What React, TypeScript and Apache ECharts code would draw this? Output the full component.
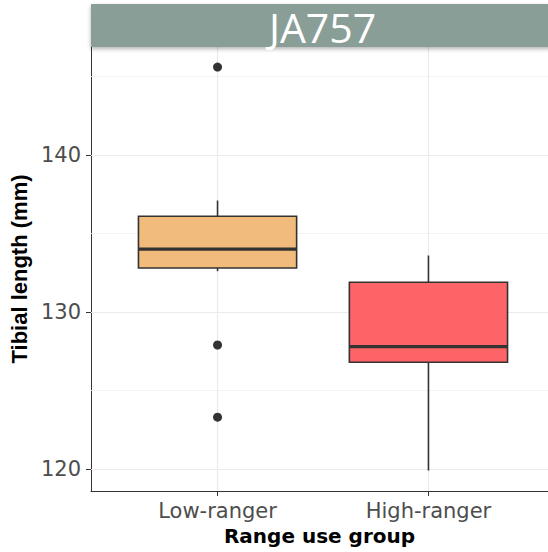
import React, { useEffect, useRef } from "react";
import * as echarts from "echarts";

const categories = ["Low-ranger", "High-ranger"];
// [min whisker, Q1, median, Q3, max whisker]
const lowRangerBox = [132.6, 132.8, 134.0, 136.1, 137.1];
const highRangerBox = [119.9, 126.8, 127.8, 131.9, 133.6];
const lowRangerOutliers = [145.6, 127.9, 123.3];
const highRangerOutliers: number[] = [];
const fillColors = ["#F1BB7B", "#FD6467"];
const yTicks = [120, 130, 140];
const yMinor = [125, 135, 145];
const panelTitle = "JA757";

export default function App() {
  const ref = useRef<HTMLDivElement>(null);
  useEffect(() => {
    if (!ref.current) return;
    const chart = echarts.init(ref.current, undefined, { renderer: "svg" });
    const boxes = [lowRangerBox, highRangerBox].map((b, i) => [i + 1, ...b, i]);
    const outliers: number[][] = [];
    lowRangerOutliers.forEach((v) => outliers.push([1, v]));
    highRangerOutliers.forEach((v) => outliers.push([2, v]));
    const stroke = "#333333";
    const tickFont = "DejaVu Sans, sans-serif";
    chart.setOption({
      animation: false,
      grid: {
        left: 91,
        top: 47,
        right: 0,
        height: 444,
        show: false,
      },
      xAxis: {
        type: "value",
        min: 0.4,
        max: 2.5668,
        splitLine: { show: false },
        axisLine: { show: true, onZero: false, lineStyle: { color: "#333333", width: 1 } },
        axisTick: { show: true, customValues: [1, 2], length: 5, lineStyle: { color: "#333333" } },
        axisLabel: {
          customValues: [1, 2],
          formatter: (v: number) => categories[Math.round(v) - 1] ?? "",
          color: "#4D4D4D",
          fontSize: 21,
          fontFamily: tickFont,
          margin: 9,
        },
        name: "Range use group",
        nameLocation: "middle",
        nameGap: 24,
        nameTextStyle: {
          color: "#000000",
          fontSize: 20,
          fontWeight: "bold",
          fontFamily: tickFont,
        },
      },
      yAxis: {
        type: "value",
        min: 118.6,
        max: 146.88,
        splitLine: { show: false },
        axisLine: { show: true, onZero: false, lineStyle: { color: "#333333", width: 1 } },
        axisTick: { show: true, customValues: yTicks, length: 5, lineStyle: { color: "#333333" } },
        axisLabel: {
          customValues: yTicks,
          color: "#4D4D4D",
          fontSize: 21,
          fontFamily: tickFont,
          margin: 10,
        },
        name: "Tibial length (mm)",
        nameLocation: "middle",
        nameRotate: 90,
        nameGap: 55,
        nameTextStyle: {
          color: "#000000",
          fontSize: 22,
          fontWeight: "bold",
          fontFamily: "Liberation Sans, Arial, sans-serif",
        },
      },
      graphic: [
        {
          type: "rect",
          shape: { x: 91, y: 4, width: 460, height: 43 },
          style: {
            fill: "#8A9E98",
            shadowBlur: 4,
            shadowOffsetY: 2,
            shadowColor: "rgba(0,0,0,0.3)",
          },
          z: 100,
        },
        {
          type: "text",
          x: 322.5,
          y: 27,
          style: {
            text: panelTitle,
            fill: "#ffffff",
            fontSize: 41,
            lineHeight: 41,
            fontFamily: "Open Sans, sans-serif",
            align: "center",
            verticalAlign: "middle",
          },
          z: 101,
        },
      ],
      series: [
        {
          type: "line",
          data: [],
          z: 1,
          silent: true,
          markLine: {
            z: 1,
            silent: true,
            symbol: ["none", "none"],
            label: { show: false },
            lineStyle: { type: "solid", color: "#EBEBEB", width: 1.1 },
            data: [
              ...yTicks.map((v) => ({ yAxis: v, lineStyle: { type: "solid", color: "#EBEBEB", width: 1.2 } })),
              ...yMinor.map((v) => ({ yAxis: v, lineStyle: { type: "solid", color: "#F0F0F0", width: 0.8 } })),
              ...categories.map((_, i) => ({ xAxis: i + 1, lineStyle: { type: "solid", color: "#EBEBEB", width: 1.2 } })),
            ],
          },
        },
        {
          type: "custom",
          z: 3,
          data: boxes,
          renderItem: (params: any, api: any) => {
            const x = api.value(0);
            const mn = api.value(1);
            const q1 = api.value(2);
            const md = api.value(3);
            const q3 = api.value(4);
            const mx = api.value(5);
            const ci = api.value(6);
            const half = api.size([0.75, 0])[0] / 2;
            const pMin = api.coord([x, mn]);
            const pQ1 = api.coord([x, q1]);
            const pMd = api.coord([x, md]);
            const pQ3 = api.coord([x, q3]);
            const pMax = api.coord([x, mx]);
            const cx = pMd[0];
            const lineStyle = { stroke, lineWidth: 1.6 };
            return {
              type: "group",
              children: [
                { type: "line", shape: { x1: cx, y1: pQ3[1], x2: cx, y2: pMax[1] }, style: lineStyle },
                { type: "line", shape: { x1: cx, y1: pQ1[1], x2: cx, y2: pMin[1] }, style: lineStyle },
                {
                  type: "rect",
                  shape: { x: cx - half, y: pQ3[1], width: half * 2, height: pQ1[1] - pQ3[1] },
                  style: { fill: fillColors[ci], stroke, lineWidth: 1.6 },
                },
                {
                  type: "line",
                  shape: { x1: cx - half, y1: pMd[1], x2: cx + half, y2: pMd[1] },
                  style: { stroke, lineWidth: 3.2 },
                },
              ],
            };
          },
        },
        {
          type: "scatter",
          z: 4,
          data: outliers,
          symbol: "circle",
          symbolSize: 9,
          itemStyle: { color: "#333333", opacity: 1 },
        },
      ],
    });
    return () => chart.dispose();
  }, []);
  return (
    <div
      ref={ref}
      style={{ position: "absolute", left: 0, top: 0, width: 548, height: 552 }}
    />
  );
}
